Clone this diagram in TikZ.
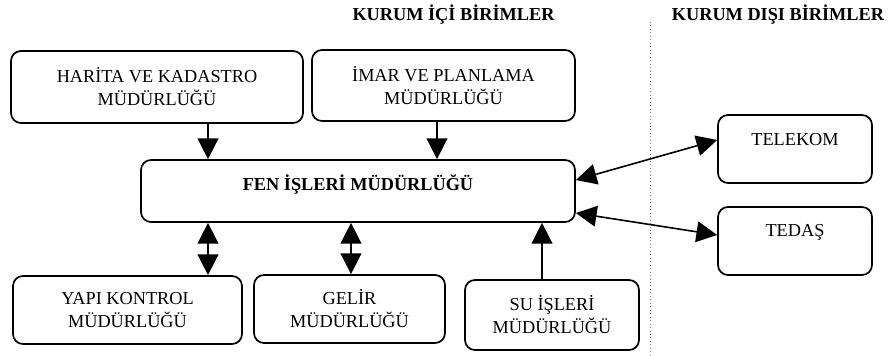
\documentclass[tikz,border=0pt]{standalone}
\usepackage{fontspec}
\setmainfont{Liberation Serif}
\usetikzlibrary{arrows.meta}

\begin{document}
\begin{tikzpicture}[x=0.75pt,y=-0.75pt,
  font=\fontsize{13.7}{17.25}\selectfont,
  birim/.style={draw,line width=1.3pt,rounded corners=7.5pt,inner sep=0pt,align=center},
  ok/.style={line width=1.2pt,-{Triangle[width=15.5pt,length=15.5pt]}},
  ciftok/.style={line width=1.2pt,{Triangle[width=15.5pt,length=15.5pt]}-{Triangle[width=15.5pt,length=15.5pt]}}]
\useasboundingbox (0,0) rectangle (889,356);
\node[font=\fontsize{13.7}{17.25}\selectfont\bfseries] (ici) at (453.5,15) {KURUM İÇİ BİRİMLER};
\node[font=\fontsize{13.7}{17.25}\selectfont\bfseries] (disi) at (778,15) {KURUM DIŞI BİRİMLER};
\coordinate (c1) at (650,22);
\coordinate (c2) at (650,356);
\draw[dotted,gray,line width=0.6pt] (c1) -- (c2);
\node[birim,minimum width=219pt,minimum height=54pt] (harita) at (157,87) {HARİTA VE KADASTRO\\MÜDÜRLÜĞÜ};
\node[birim,minimum width=197.25pt,minimum height=53.25pt] (imar) at (443.5,85.5) {İMAR VE PLANLAMA\\MÜDÜRLÜĞÜ};
\node[birim,minimum width=325.5pt,text height=23.25pt,text depth=23.25pt,font=\fontsize{13.7}{17.25}\selectfont\bfseries] (fen) at (358,191) {FEN İŞLERİ MÜDÜRLÜĞÜ};
\node[birim,minimum width=115.5pt,text height=23.25pt,text depth=27.75pt] (telekom) at (795,149) {TELEKOM};
\node[birim,minimum width=115.5pt,text height=21.75pt,text depth=29.25pt] (tedas) at (795,241) {TEDAŞ};
\node[birim,minimum width=171.75pt,minimum height=51pt] (yapi) at (127.5,310) {YAPI KONTROL\\MÜDÜRLÜĞÜ};
\node[birim,minimum width=143.25pt,minimum height=51pt] (gelir) at (349.5,309) {GELİR\\MÜDÜRLÜĞÜ};
\node[birim,minimum width=130.5pt,minimum height=52.5pt] (su) at (552,315) {SU İŞLERİ\\MÜDÜRLÜĞÜ};
\coordinate (x1) at (208,0);
\coordinate (x2) at (437,0);
\coordinate (x3) at (351,0);
\coordinate (x4) at (542,0);
\draw[ok] (harita.south -| x1) -- (fen.north -| x1);
\draw[ok] (imar.south -| x2) -- (fen.north -| x2);
\draw[ciftok] (fen.south -| x1) -- (yapi.north -| x1);
\draw[ciftok] (fen.south -| x3) -- (gelir.north -| x3);
\draw[ok] (su.north -| x4) -- (fen.south -| x4);
\draw[ciftok] ([yshift=8.25pt]fen.east) -- ([yshift=6.75pt]telekom.west);
\draw[ciftok] ([yshift=-16.5pt]fen.east) -- ([yshift=4.5pt]tedas.west);
\end{tikzpicture}
\end{document}
